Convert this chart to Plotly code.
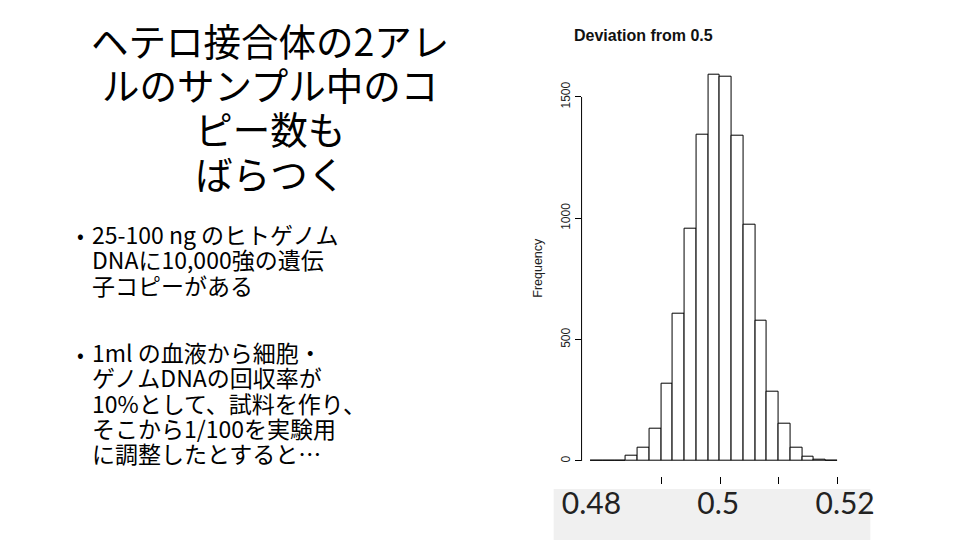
import plotly.graph_objects as go

# ---- data ----
bin_centers = [0.479, 0.481, 0.483, 0.485, 0.487, 0.489, 0.491, 0.493, 0.495, 0.497,
               0.499, 0.501, 0.503, 0.505, 0.507, 0.509, 0.511, 0.513, 0.515, 0.517, 0.519]
counts = [0, 1, 3, 20, 56, 132, 317, 605, 956, 1343,
          1590, 1582, 1340, 973, 577, 284, 152, 56, 19, 4, 2]
bin_width = 0.002
y_ticks = [0, 500, 1000, 1500]
x_ticks = [0.49, 0.50, 0.51, 0.52]
overlay_ticks = [0.48, 0.5, 0.52]
overlay_labels = ["0.48", "0.5", "0.52"]

title_lines = ["ヘテロ接合体の2アレ", "ルのサンプル中のコ", "ピー数も", "ばらつく"]
bullet1 = ["25-100 ng のヒトゲノム", "DNAに10,000強の遺伝", "子コピーがある"]
bullet2 = ["1ml の血液から細胞・", "ゲノムDNAの回収率が", "10%として、試料を作り、",
           "そこから1/100を実験用", "に調整したとすると…"]

W, H = 960, 540
JP = "Noto Sans CJK JP"
R_FONT = "Liberation Sans"

fig = go.Figure()
fig.add_trace(go.Bar(
    x=bin_centers, y=counts, width=bin_width,
    marker=dict(color="white", line=dict(color="black", width=1)),
    xaxis="x", yaxis="y", hoverinfo="skip", showlegend=False))
# carrier trace for the overlay label axis
fig.add_trace(go.Scatter(
    x=overlay_ticks, y=[None] * len(overlay_ticks), xaxis="x2", yaxis="y",
    mode="markers", showlegend=False, hoverinfo="skip"))

def px(x):
    return x / W

def py(y):
    return 1 - y / H

fig.update_layout(
    width=W, height=H, margin=dict(l=0, r=0, t=0, b=0),
    paper_bgcolor="white", plot_bgcolor="rgba(0,0,0,0)",
    bargap=0, showlegend=False,
    xaxis=dict(domain=[px(584), px(851)], range=[0.47644, 0.52169],
               showgrid=False, zeroline=False, showline=False,
               tickvals=x_ticks, ticktext=["" for _ in x_ticks],
               ticks="outside", ticklen=7, tickwidth=1, tickcolor="black"),
    yaxis=dict(domain=[py(476), py(72.7)], range=[-62, 1600],
               showgrid=False, zeroline=False, showline=False,
               tickvals=y_ticks, ticktext=[str(v) for v in y_ticks],
               ticks="outside", ticklen=6, tickwidth=1, tickcolor="black",
               tickangle=-90, tickfont=dict(family=R_FONT, size=12, color="#222")),
    xaxis2=dict(domain=[px(556), px(874)], range=[0.47404, 0.52398],
                anchor="free", position=py(483), showgrid=False, zeroline=False,
                showline=False, ticks="", tickvals=overlay_ticks, ticktext=overlay_labels,
                tickfont=dict(family="Lato", size=30, color="#222")),
)

# gray overlay box behind the big labels
fig.add_shape(type="rect", xref="paper", yref="paper",
              x0=px(556), x1=px(874), y0=0, y1=py(489),
              fillcolor="#f0f0f0", line=dict(width=0), layer="below")
# R-style y axis line spanning the tick range
fig.add_shape(type="line", xref="paper", yref="y",
              x0=px(584), x1=px(584), y0=y_ticks[0], y1=y_ticks[-1],
              line=dict(color="black", width=1))

# chart title and y label
fig.add_annotation(text="<b>Deviation from 0.5</b>", xref="paper", yref="paper",
                   x=px(718), y=py(36), showarrow=False, yanchor="middle",
                   font=dict(family=R_FONT, size=16, color="#111"))
fig.add_annotation(text="Frequency", xref="paper", yref="paper",
                   x=px(540), y=py(268), showarrow=False, textangle=-90,
                   xanchor="center", yanchor="middle",
                   font=dict(family=R_FONT, size=12.5, color="#222"))


def block(lines, glyph_px):
    return "<br>".join(f'<span style="font-size:{glyph_px}px">{ln}</span>' for ln in lines)


# slide title (line pitch from base font size, glyphs from span size)
fig.add_annotation(text=block(title_lines, 37.5), xref="paper", yref="paper",
                   x=px(271), y=py(106), showarrow=False, xanchor="center",
                   yanchor="middle", align="center",
                   font=dict(family=JP, size=34, color="black"))

# bullets
def bullet_block(lines, yc_first, yc_center):
    fig.add_annotation(text="•", xref="paper", yref="paper", x=px(86), y=py(yc_first),
                       showarrow=False, xanchor="right", yanchor="middle",
                       font=dict(family=JP, size=20, color="black"))
    fig.add_annotation(text=block(lines, 23), xref="paper", yref="paper",
                       x=px(90), y=py(yc_center), showarrow=False,
                       xanchor="left", yanchor="middle", align="left",
                       font=dict(family=JP, size=19.5, color="black"))

bullet_block(bullet1, 235, 259)
bullet_block(bullet2, 353, 402)

fig.write_html("out.html")
